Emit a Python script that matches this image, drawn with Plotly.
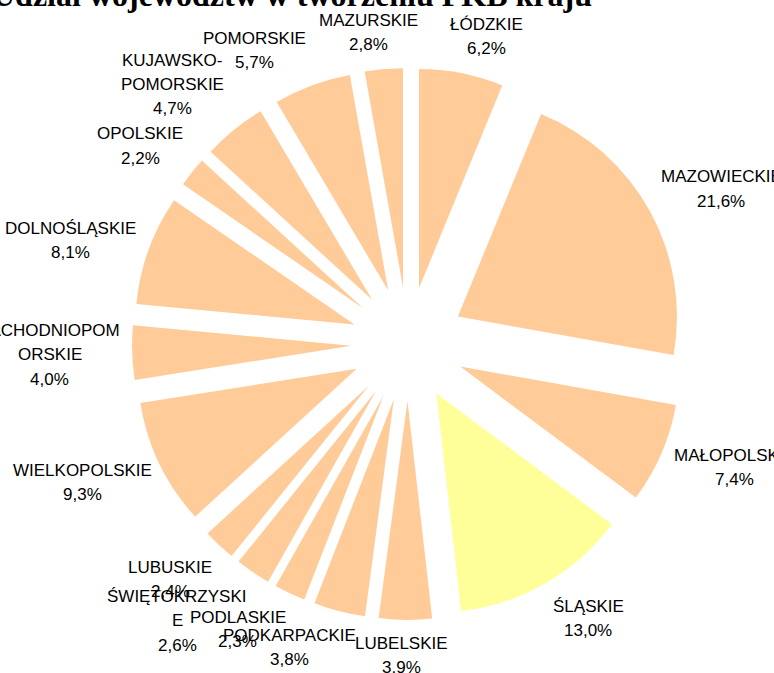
import plotly.graph_objects as go

# ---- data ----
regions = ["ŁÓDZKIE", "MAZOWIECKIE", "MAŁOPOLSKIE", "ŚLĄSKIE", "LUBELSKIE",
           "PODKARPACKIE", "PODLASKIE", "ŚWIĘTOKRZYSKIE", "LUBUSKIE",
           "WIELKOPOLSKIE", "ZACHODNIOPOMORSKIE", "DOLNOŚLĄSKIE", "OPOLSKIE",
           "KUJAWSKO-POMORSKIE", "POMORSKIE", "MAZURSKIE"]
shares = [6.2, 21.6, 7.4, 13.0, 3.9, 3.8, 2.3, 2.6, 2.4, 9.3, 4.0, 8.1, 2.2, 4.7, 5.7, 2.8]
# label text as wrapped in the original
label_lines = [["ŁÓDZKIE"], ["MAZOWIECKIE"], ["MAŁOPOLSKIE"], ["ŚLĄSKIE"], ["LUBELSKIE"],
               ["PODKARPACKIE"], ["PODLASKIE"], ["ŚWIĘTOKRZYSKI", "E"], ["LUBUSKIE"],
               ["WIELKOPOLSKIE"], ["ZACHODNIOPOM", "ORSKIE"], ["DOLNOŚLĄSKIE"], ["OPOLSKIE"],
               ["KUJAWSKO-", "POMORSKIE"], ["POMORSKIE"], ["MAZURSKIE"]]
highlight = "ŚLĄSKIE"
title_text = "Udział województw w tworzeniu PKB kraju"

# ---- layout / style ----
W, H = 774, 673
BASE = "#FFCC99"
HIGH = "#FFFF99"
# label positions (pixel centre x, centre y of first line)
label_pos = [(486, 24.5), (721, 177), (734, 455), (588, 606), (401, 643),
             (289, 635), (238, 617), (177, 596), (170, 567),
             (82, 470), (50, 330), (70, 228), (140, 134),
             (172, 60), (254, 38), (368, 20.5)]
PITCH = 24.5

colors = [HIGH if r == highlight else BASE for r in regions]

fig = go.Figure(go.Pie(
    labels=regions, values=shares, sort=False, direction="clockwise", rotation=0,
    pull=[0.26] * len(regions), marker=dict(colors=colors, line=dict(width=0)),
    textinfo="none", hoverinfo="label+percent", showlegend=False,
    domain=dict(x=[132 / W, 684 / W], y=[1 - 620 / H, 1 - 68 / H]),
))

annotations = []
for lines, val, (px, py) in zip(label_lines, shares, label_pos):
    all_lines = lines + [f"{val:.1f}".replace(".", ",") + "%"]
    for i, t in enumerate(all_lines):
        annotations.append(dict(
            text=t, x=px / W, y=1 - (py + i * PITCH) / H, xref="paper", yref="paper",
            xanchor="center", yanchor="middle", showarrow=False,
            font=dict(family="Liberation Sans", size=17, color="#000000")))

annotations.append(dict(
    text="<b>" + title_text + "</b>", x=292 / W, y=1 + 5.5 / H, xref="paper", yref="paper",
    xanchor="center", yanchor="middle", showarrow=False,
    font=dict(family="Liberation Serif", size=32, color="#000000")))

fig.update_layout(width=W, height=H, margin=dict(l=0, r=0, t=0, b=0),
                  paper_bgcolor="white", plot_bgcolor="white",
                  annotations=annotations)

fig.write_html("out.html", config={"displayModeBar": False},
               post_script="document.body.style.margin='0';document.body.style.overflow='hidden';")
